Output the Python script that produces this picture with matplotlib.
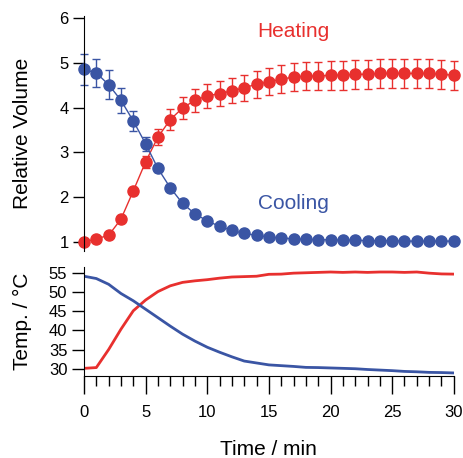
import numpy as np
import matplotlib.pyplot as plt

plt.rcParams['font.family'] = ['Liberation Sans', 'DejaVu Sans']

# Données
t = np.arange(0, 31)

vol_heat = [1.00, 1.07, 1.15, 1.51, 2.14, 2.79, 3.34, 3.73, 3.99, 4.16, 4.26,
            4.31, 4.37, 4.44, 4.52, 4.57, 4.63, 4.68, 4.70, 4.70, 4.72, 4.72,
            4.74, 4.74, 4.76, 4.76, 4.76, 4.76, 4.76, 4.74, 4.72]
err_heat = [0.02, 0.03, 0.04, 0.06, 0.09, 0.13, 0.17, 0.23, 0.24, 0.26, 0.26,
            0.27, 0.28, 0.29, 0.30, 0.30, 0.31, 0.31, 0.32, 0.32, 0.32, 0.32,
            0.32, 0.32, 0.32, 0.32, 0.32, 0.32, 0.32, 0.32, 0.32]

vol_cool = [4.85, 4.77, 4.51, 4.16, 3.70, 3.19, 2.64, 2.21, 1.86, 1.63, 1.47,
            1.35, 1.26, 1.19, 1.15, 1.11, 1.09, 1.07, 1.06, 1.05, 1.05, 1.04,
            1.04, 1.03, 1.03, 1.03, 1.02, 1.02, 1.02, 1.02, 1.02]
err_cool = [0.35, 0.32, 0.32, 0.28, 0.22, 0.16, 0.08, 0.05, 0.04, 0.03, 0.03,
            0.02, 0.02, 0.02, 0.02, 0.02, 0.02, 0.02, 0.02, 0.02, 0.02, 0.02,
            0.02, 0.02, 0.02, 0.02, 0.02, 0.02, 0.02, 0.02, 0.02]

temp_heat = [30.1, 30.3, 35.0, 40.3, 45.1, 47.9, 50.1, 51.6, 52.5, 52.9, 53.2,
             53.6, 53.9, 54.0, 54.1, 54.6, 54.65, 54.9, 55.0, 55.1, 55.2, 55.1,
             55.2, 55.1, 55.2, 55.2, 55.1, 55.2, 54.9, 54.7, 54.65]
temp_cool = [54.1, 53.5, 52.0, 49.6, 47.7, 45.5, 43.3, 41.1, 39.0, 37.2, 35.6,
             34.3, 33.1, 32.0, 31.5, 31.0, 30.8, 30.6, 30.35, 30.3, 30.2, 30.1,
             30.0, 29.8, 29.65, 29.5, 29.3, 29.2, 29.05, 29.0, 28.9]

red = '#e8302e'
blue = '#3a55a4'

fig = plt.figure(figsize=(4.64, 4.58), dpi=100)
ax1 = fig.add_axes([0.181, 0.452, 0.797, 0.513])
ax2 = fig.add_axes([0.181, 0.179, 0.797, 0.238])

# Volume relatif
for v, e, c in [(vol_heat, err_heat, red), (vol_cool, err_cool, blue)]:
    ax1.errorbar(t, v, yerr=e, color=c, marker='o', ms=8, lw=1,
                 elinewidth=1, capsize=3, capthick=1, clip_on=False)
ax1.set_xlim(0, 30)
ax1.set_ylim(0.8, 6.04)
ax1.set_yticks([1, 2, 3, 4, 5, 6])
ax1.set_xticks([])
for s in ['top', 'right', 'bottom']:
    ax1.spines[s].set_visible(False)
ax1.tick_params(axis='y', direction='out', length=8, width=1, pad=3, labelsize=12)
ax1.set_ylabel("Relative Volume", fontsize=15)
ax1.yaxis.set_label_coords(-0.14, 0.5)
ax1.text(17, 5.7, "Heating", color=red, fontsize=15, ha='center', va='center')
ax1.text(17, 1.85, "Cooling", color=blue, fontsize=15, ha='center', va='center')

# Température
ax2.plot(t, temp_heat, color=red, lw=2)
ax2.plot(t, temp_cool, color=blue, lw=2)
ax2.set_xlim(0, 30)
ax2.set_ylim(28.1, 56.5)
ax2.set_yticks([30, 35, 40, 45, 50, 55])
ax2.set_xticks(range(0, 31, 5))
ax2.set_xticks(range(0, 31), minor=True)
for s in ['top', 'right']:
    ax2.spines[s].set_visible(False)
ax2.tick_params(axis='y', direction='out', length=9, width=1, pad=3, labelsize=12)
ax2.tick_params(axis='x', which='major', direction='out', length=13, width=1,
                pad=8, labelsize=12)
ax2.tick_params(axis='x', which='minor', direction='out', length=7, width=1)
ax2.set_ylabel("Temp. / \u00b0C", fontsize=15)
ax2.yaxis.set_label_coords(-0.14, 0.5)
ax2.set_xlabel("Time / min", fontsize=15, labelpad=14)

fig.savefig("out.png", dpi=100)
